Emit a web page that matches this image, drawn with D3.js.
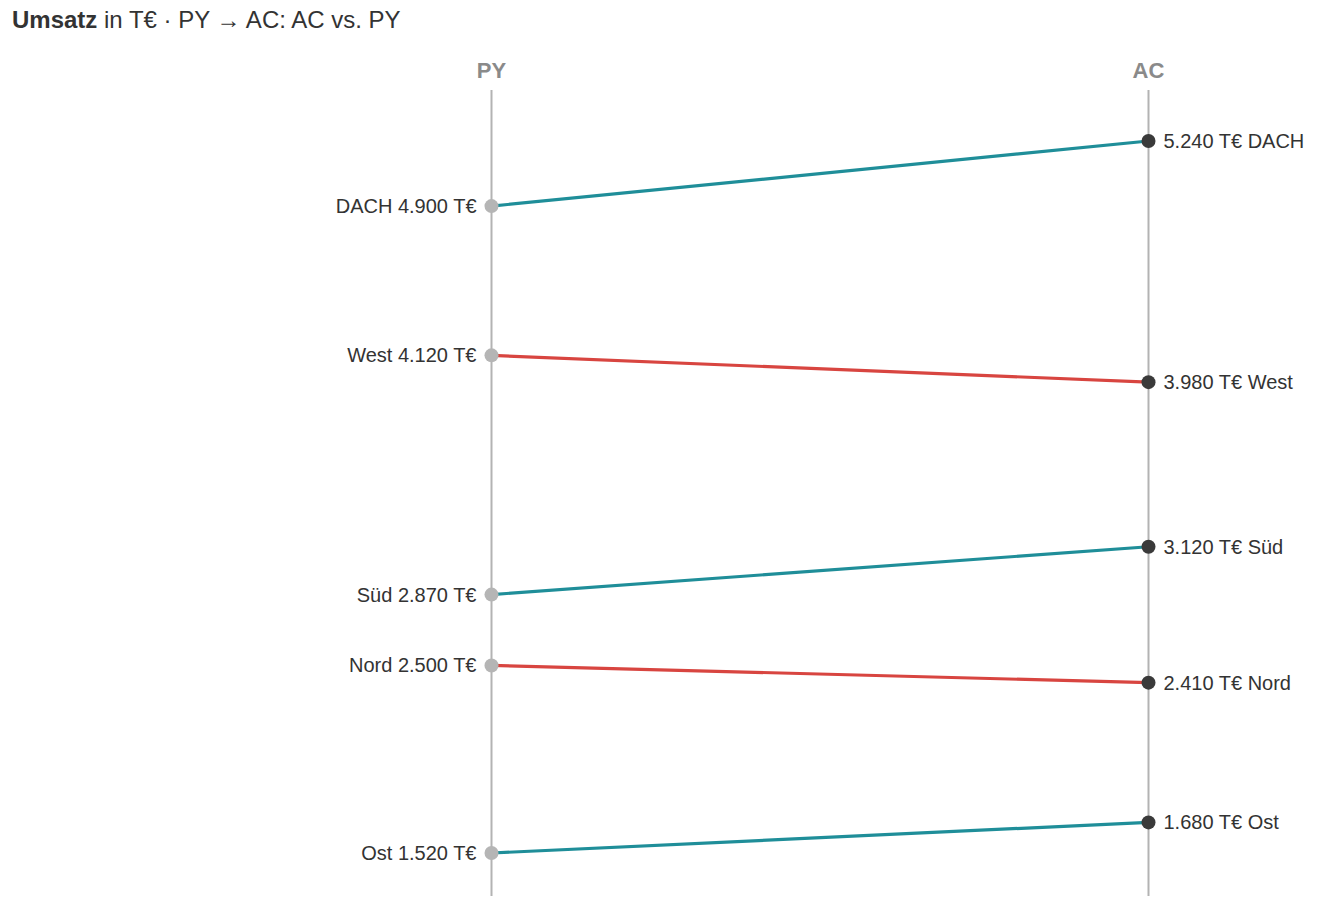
<!DOCTYPE html>
<html>
<head>
<meta charset="utf-8">
<script src="https://cdn.jsdelivr.net/npm/d3@7"></script>
<style>
  body { margin: 0; background: #fff; font-family: "Liberation Sans", Arial, sans-serif; }
</style>
</head>
<body>
<svg width="1320" height="912"></svg>
<script>
// Data
var regions = ["DACH", "West", "Süd", "Nord", "Ost"];
var py = [4900, 4120, 2870, 2500, 1520];
var ac = [5240, 3980, 3120, 2410, 1680];
var columns = ["PY", "AC"];

var svg = d3.select("svg"),
	width = +svg.attr("width"),
	height = +svg.attr("height");

var fmt = d3.formatLocale({decimal: ",", thousands: ".", grouping: [3], currency: ["", " €"]}).format(",.0f");

// Title
var title = svg.append("text")
	.attr("x", 12)
	.attr("y", 28)
	.attr("font-size", "24px")
	.attr("fill", "#333");
title.append("tspan").attr("font-weight", "bold").text("Umsatz");
title.append("tspan").text(" in T€ · PY → AC: AC vs. PY");

// Scales
var x = d3.scalePoint()
	.domain(columns)
	.range([491.5, 1148.5]);

var all = py.concat(ac);
var y = d3.scaleLinear()
	.domain(d3.extent(all))
	.range([853, 141]);

// Column headers and axis lines
columns.forEach(function(c){
	svg.append("line")
		.attr("x1", x(c)).attr("x2", x(c))
		.attr("y1", 90).attr("y2", 896)
		.attr("stroke", "#b3b3b3")
		.attr("stroke-width", 2);
	svg.append("text")
		.attr("x", x(c))
		.attr("y", 78)
		.attr("text-anchor", "middle")
		.attr("font-size", "22px")
		.attr("font-weight", "bold")
		.attr("fill", "#8a8a8a")
		.text(c);
});

var rows = regions.map(function(r, i){ return {name: r, py: py[i], ac: ac[i]}; });

// Slopes
svg.append("g")
	.selectAll("line")
	.data(rows)
	.enter()
	.append("line")
	.attr("x1", x("PY"))
	.attr("y1", function(d){ return y(d.py); })
	.attr("x2", x("AC"))
	.attr("y2", function(d){ return y(d.ac); })
	.attr("stroke", function(d){ return d.ac >= d.py ? "#1f8e99" : "#d84540"; })
	.attr("stroke-width", 3.2);

// Dots
svg.append("g")
	.selectAll("circle")
	.data(rows)
	.enter()
	.append("circle")
	.attr("cx", x("PY"))
	.attr("cy", function(d){ return y(d.py); })
	.attr("r", 7)
	.attr("fill", "#b5b5b5");

svg.append("g")
	.selectAll("circle")
	.data(rows)
	.enter()
	.append("circle")
	.attr("cx", x("AC"))
	.attr("cy", function(d){ return y(d.ac); })
	.attr("r", 7)
	.attr("fill", "#3a3a3a");

// Labels
svg.append("g")
	.selectAll("text")
	.data(rows)
	.enter()
	.append("text")
	.attr("x", x("PY") - 15)
	.attr("y", function(d){ return y(d.py); })
	.attr("dy", "0.35em")
	.attr("text-anchor", "end")
	.attr("font-size", "20px")
	.attr("fill", "#333")
	.text(function(d){ return d.name + " " + fmt(d.py) + " T€"; });

svg.append("g")
	.selectAll("text")
	.data(rows)
	.enter()
	.append("text")
	.attr("x", x("AC") + 15)
	.attr("y", function(d){ return y(d.ac); })
	.attr("dy", "0.35em")
	.attr("font-size", "20px")
	.attr("fill", "#333")
	.text(function(d){ return fmt(d.ac) + " T€ " + d.name; });
</script>
</body>
</html>
